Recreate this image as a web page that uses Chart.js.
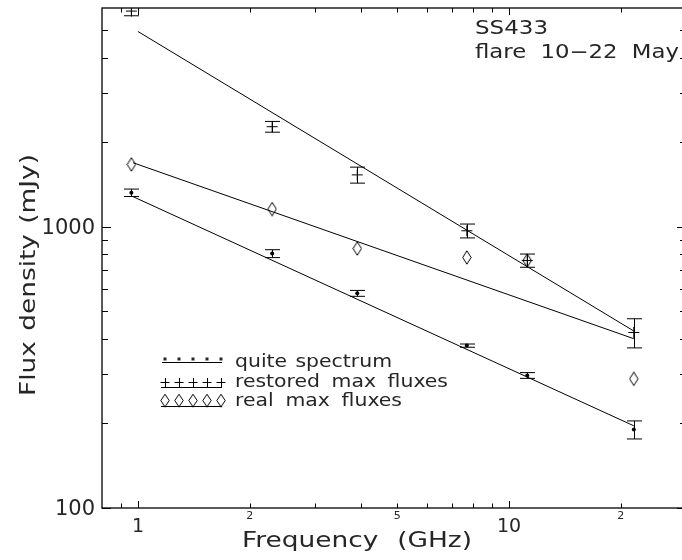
<!DOCTYPE html>
<html><head><meta charset="utf-8">
<script src="https://cdn.jsdelivr.net/npm/chart.js@4"></script>
<style>
html,body{margin:0;padding:0;background:#fff;overflow:hidden;width:682px;height:560px}
#wrap{position:absolute;left:0;top:0;width:700px;height:560px}
</style></head><body>
<div id="wrap"><canvas id="c" width="700" height="560" style="width:700px;height:560px"></canvas></div>
<script>
// ---- data ----
const frequencies = [0.96, 2.3, 3.9, 7.7, 11.2, 21.7];           // GHz
const quietFlux = [1322, 803, 580, 378, 296, 190];                // mJy
const quietErr = [40, 26, 14, 5, 7, 14];
const restoredFlux = [5850, 2270, 1530, 968, 759, 421];
const restoredErr = [220, 100, 100, 55, 41, 50];
const realMaxFlux = [1667, 1157, 837, 778, 759, 288];

// power-law fit lines (end points)
const fitRestoredFreq = [1.0, 21.7];
const fitRestoredFlux = [4950, 426];
const fitRealFreq = [0.97, 21.7];
const fitRealFlux = [1690, 400];
const fitQuietFreq = [0.97, 21.7];
const fitQuietFlux = [1280, 196];

// axes
const xMajorTicks = [1, 10];
const xMajorLabels = ['1', '10'];
const xMinorTicks = [0.9, 2, 3, 4, 5, 6, 7, 8, 9, 20, 30];
const xMinorLabelTicks = [2, 5, 20];
const xMinorLabels = ['2', '5', '2'];
const yMajorTicks = [100, 1000];
const yMajorLabels = ['100', '1000'];
const yMinorTicks = [200, 300, 400, 500, 600, 700, 800, 900, 2000, 3000, 4000, 5000];

const xTitle = 'Frequency (GHz)';
const yTitle = 'Flux density (mJy)';
const noteLines = ['SS433', 'flare 10\u221222 May'];
const legendLabels = ['quite spectrum', 'restored max fluxes', 'real max fluxes'];

const FONT = '"DejaVu Sans", sans-serif';
const TXT = '#262626';
const STRETCH = 1.2;

// tall diamond marker
function makeDiamond(w, h) {
  const c = document.createElement('canvas');
  c.width = w; c.height = h;
  const g = c.getContext('2d');
  g.strokeStyle = '#000'; g.lineWidth = 1;
  g.beginPath();
  g.moveTo(w / 2, 0.8); g.lineTo(w - 0.8, h / 2); g.lineTo(w / 2, h - 0.8); g.lineTo(0.8, h / 2);
  g.closePath(); g.stroke();
  return c;
}
const diamond = makeDiamond(10, 15);

const pts = (xs, ys) => xs.map((v, i) => ({x: v, y: ys[i]}));

// draw words slightly stretched, with word gaps so the line spans `width`
function drawWords(ctx, text, x, y, width) {
  const words = text.split(' ');
  let st = STRETCH;
  if (words.length === 1) st = width / ctx.measureText(text).width;
  const ws = words.map(w => ctx.measureText(w).width * st);
  const total = ws.reduce((s, v) => s + v, 0);
  const gap = words.length > 1 ? (width - total) / (words.length - 1) : 0;
  let cx = x;
  ctx.textAlign = 'left';
  words.forEach((w, i) => {
    ctx.save();
    ctx.translate(cx, y);
    ctx.scale(st, 1);
    ctx.fillText(w, 0, 0);
    ctx.restore();
    cx += ws[i] + gap;
  });
}

const errorBarPlugin = {
  id: 'errorBars',
  afterDatasetsDraw(chart) {
    const {ctx, chartArea: a, scales: {x, y}} = chart;
    ctx.save();
    ctx.beginPath(); ctx.rect(a.left, a.top, a.right - a.left, a.bottom - a.top); ctx.clip();
    ctx.strokeStyle = '#000'; ctx.lineWidth = 1;
    const bars = (vals, errs) => vals.forEach((v, i) => {
      const px = Math.round(x.getPixelForValue(frequencies[i])) + 0.5;
      const y1 = y.getPixelForValue(v + errs[i]);
      const y2 = y.getPixelForValue(v - errs[i]);
      ctx.beginPath();
      ctx.moveTo(px, y1); ctx.lineTo(px, y2);
      ctx.moveTo(px - 7.5, y1); ctx.lineTo(px + 7.5, y1);
      ctx.moveTo(px - 7.5, y2); ctx.lineTo(px + 7.5, y2);
      ctx.stroke();
    });
    bars(quietFlux, quietErr);
    bars(restoredFlux, restoredErr);
    ctx.restore();
  }
};

const axesPlugin = {
  id: 'frameAxes',
  afterDraw(chart) {
    const {ctx, chartArea: a, scales: {x, y}} = chart;
    ctx.save();
    ctx.strokeStyle = '#000';
    ctx.lineWidth = 1.3;
    ctx.strokeRect(a.left, a.top, a.right - a.left, a.bottom - a.top);
    ctx.lineWidth = 1;
    const seg = (x1, y1, x2, y2) => { ctx.beginPath(); ctx.moveTo(x1, y1); ctx.lineTo(x2, y2); ctx.stroke(); };
    const xt = (v, len) => { const p = Math.round(x.getPixelForValue(v)) + 0.5; seg(p, a.bottom, p, a.bottom - len); seg(p, a.top, p, a.top + len); };
    const yt = (v, len) => { const p = Math.round(y.getPixelForValue(v)) + 0.5; seg(a.left, p, a.left + len, p); seg(a.right, p, a.right - len, p); };
    xMajorTicks.forEach(v => xt(v, 7));
    xMinorTicks.forEach(v => xt(v, 4.5));
    yMajorTicks.forEach(v => yt(v, 9));
    yMinorTicks.forEach(v => yt(v, 6));

    ctx.fillStyle = TXT;
    // x tick labels
    ctx.textAlign = 'center'; ctx.textBaseline = 'middle';
    ctx.font = '11px ' + FONT;
    xMinorLabelTicks.forEach((v, i) => ctx.fillText(xMinorLabels[i], x.getPixelForValue(v), a.bottom + 8));
    ctx.font = '19px ' + FONT;
    xMajorTicks.forEach((v, i) => ctx.fillText(xMajorLabels[i], x.getPixelForValue(v), a.bottom + 19));
    // y tick labels
    ctx.textAlign = 'right';
    ctx.font = '21px ' + FONT;
    yMajorTicks.forEach((v, i) => ctx.fillText(yMajorLabels[i], a.left - 7, y.getPixelForValue(v) + 2));

    // axis titles
    ctx.font = '22px ' + FONT;
    drawWords(ctx, xTitle, 242, a.bottom + 33, 230);
    ctx.save();
    ctx.translate(29, 275);
    ctx.rotate(-Math.PI / 2);
    drawWords(ctx, yTitle, -121, 0, 242);
    ctx.restore();

    // annotation
    ctx.font = '19px ' + FONT;
    drawWords(ctx, noteLines[0], 475, 29, 73);
    drawWords(ctx, noteLines[1], 475, 53, 204);

    // legend
    ctx.font = '17px ' + FONT;
    const lx = [165, 179, 193, 207, 221];
    // row 1: dots
    lx.forEach(px => ctx.fillRect(px - 1.5, 357.5, 3, 3));
    seg(162, 362.5, 222, 362.5);
    drawWords(ctx, legendLabels[0], 235, 363, 157);
    // row 2: crosses
    lx.forEach(px => { seg(px - 4.5, 382.5, px + 4.5, 382.5); seg(px + 0.5, 378, px + 0.5, 387); });
    seg(161, 387.5, 222, 387.5);
    drawWords(ctx, legendLabels[1], 235, 383, 213);
    // row 3: diamonds
    lx.forEach(px => ctx.drawImage(diamond, px - 5, 401 - 7.5, 10, 14));
    seg(161, 406.5, 222, 406.5);
    drawWords(ctx, legendLabels[2], 235, 401.5, 167);
    ctx.restore();
  }
};

const lineDs = (xs, ys) => ({
  data: pts(xs, ys), showLine: true, pointRadius: 0, borderColor: '#000', borderWidth: 1, fill: false
});

new Chart(document.getElementById('c'), {
  type: 'scatter',
  data: {
    datasets: [
      lineDs(fitRestoredFreq, fitRestoredFlux),
      lineDs(fitRealFreq, fitRealFlux),
      lineDs(fitQuietFreq, fitQuietFlux),
      { data: pts(frequencies, quietFlux), pointStyle: 'circle', pointRadius: 2, backgroundColor: '#000', borderColor: '#000', borderWidth: 0 },
      { data: pts(frequencies, restoredFlux), pointStyle: 'cross', pointRadius: 5.5, borderColor: '#000', borderWidth: 1 },
      { data: pts(frequencies, realMaxFlux), pointStyle: diamond, pointRadius: 7 }
    ]
  },
  options: {
    responsive: false,
    animation: false,
    devicePixelRatio: 1,
    layout: { padding: { left: 102, top: 3, right: 14, bottom: 52 } },
    scales: {
      x: { type: 'logarithmic', min: 0.8, max: 30, display: false },
      y: { type: 'logarithmic', min: 100, max: 6000, display: false }
    },
    plugins: { legend: { display: false }, tooltip: { enabled: false } }
  },
  plugins: [errorBarPlugin, axesPlugin]
});
</script>
</body></html>
